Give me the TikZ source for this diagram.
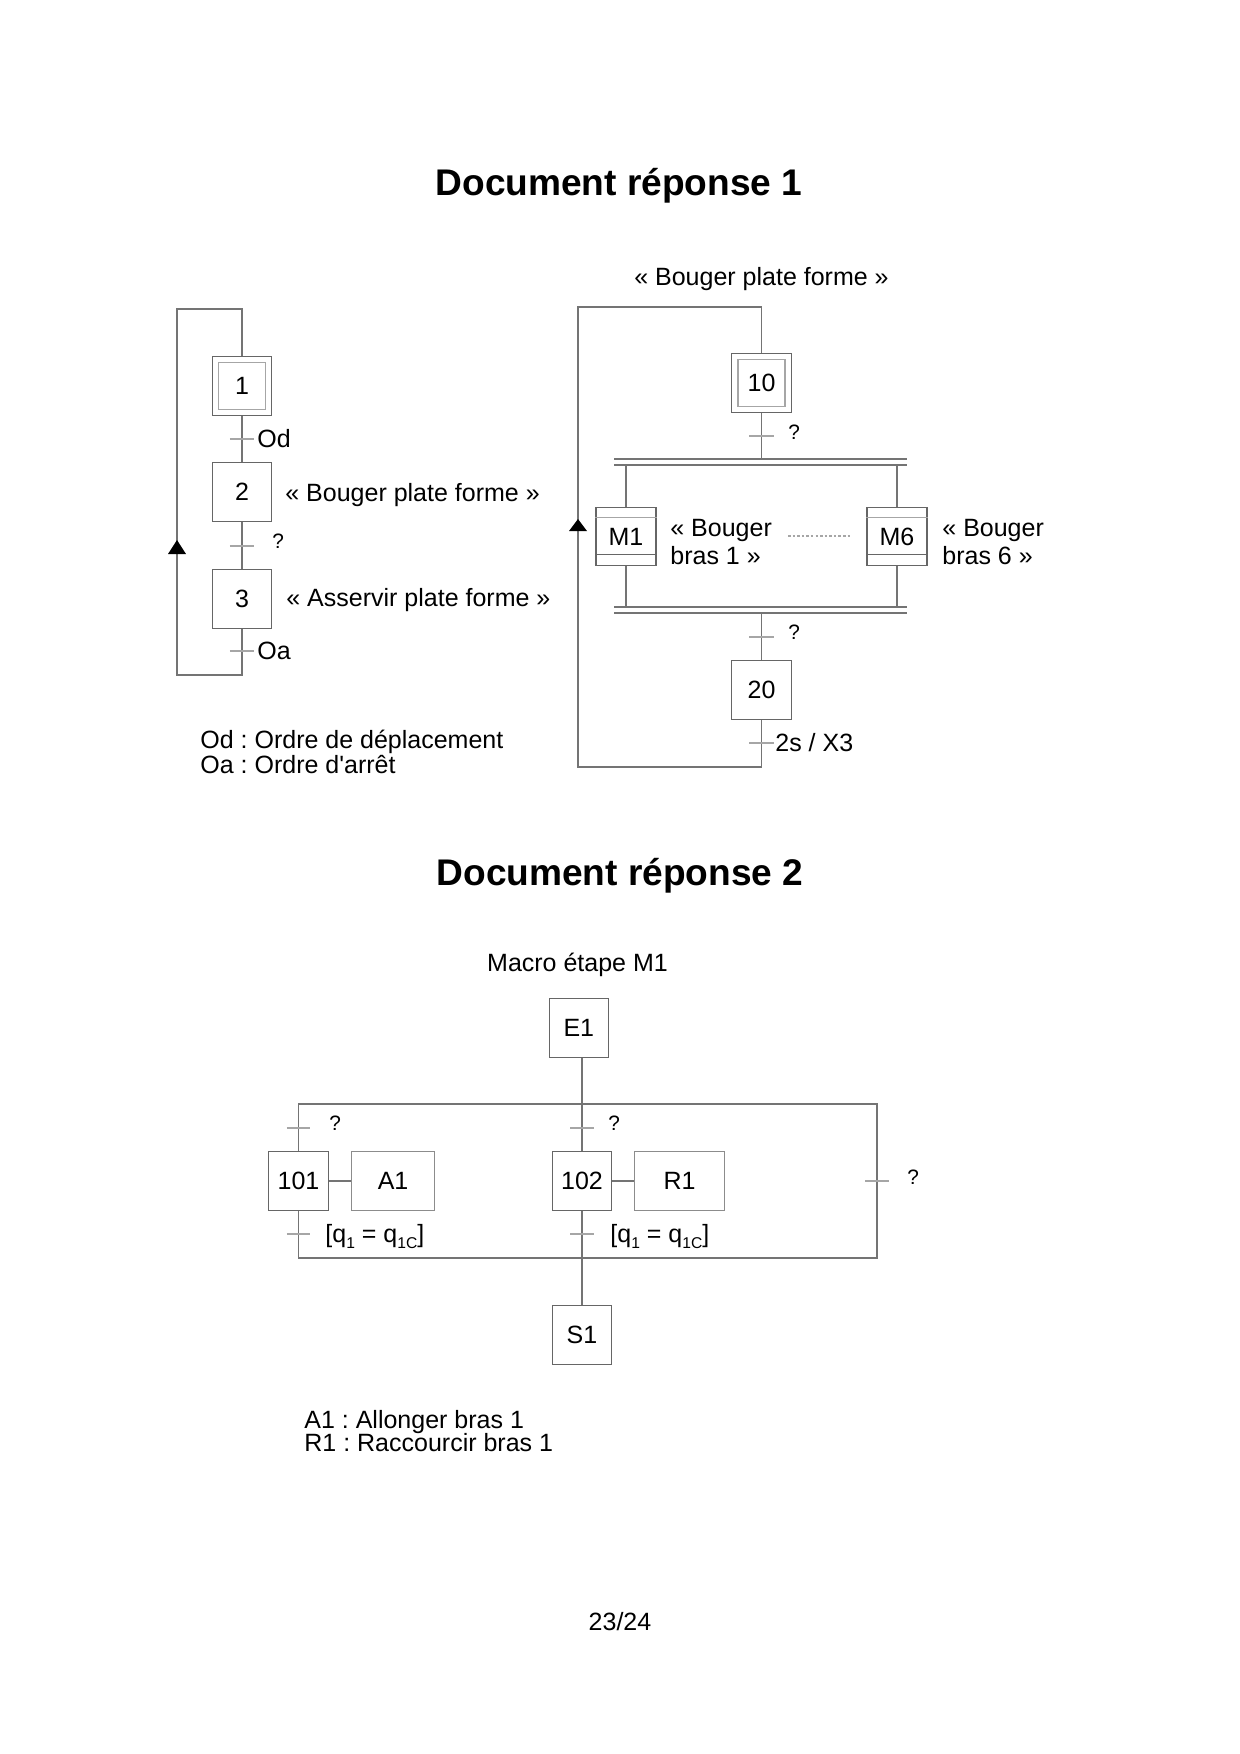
\documentclass[tikz,border=0pt]{standalone}
\usepackage{fontspec}
\setmainfont{Liberation Sans}
\newfontfamily\pfont{Liberation Sans}
\definecolor{ln}{HTML}{747474}
\definecolor{bx}{HTML}{666666}
\definecolor{lt}{HTML}{A6A6A6}
\definecolor{mb}{HTML}{8C8C8C}
\newcommand{\mysub}[1]{\raisebox{-2.6pt}{\fontsize{7.5}{8}\selectfont #1}}
\tikzset{
  ln/.style={draw=ln, line width=0.55pt},
  tick/.style={draw=lt, line width=0.55pt},
  stepbox/.style={draw=bx, line width=0.55pt, minimum width=28.4pt, minimum height=28.2pt, inner sep=0pt,
    font=\fontsize{12}{14}\selectfont, text height=8.6pt, text depth=0pt},
  innerbox/.style={draw=lt, line width=0.55pt, minimum width=22.6pt, minimum height=22.6pt, inner sep=0pt},
  lbl/.style={anchor=west, inner sep=0pt, font=\fontsize{12}{14}\selectfont, text height=8.6pt, text depth=0pt},
  qlbl/.style={anchor=west, inner sep=0pt, font=\fontsize{10}{12}\selectfont, text height=7.2pt, text depth=0pt},
  title/.style={inner sep=0pt, font=\bfseries\fontsize{17.8}{20}\selectfont, text height=12.7pt, text depth=0pt},
}
\begin{document}
\frenchspacing
\begin{tikzpicture}[x=0.48pt, y=-0.48pt]
\fill[white] (0,0) rectangle (1240,1754);
\useasboundingbox (0,0) rectangle (1240,1754);

% ---------------- Titles ----------------
\node[title] (tit1) at (619,182) {Document réponse 1};
\node[title] (tit2) at (620,872) {Document réponse 2};

% ---------------- Graph 1 (left) ----------------
\node[stepbox] (s1) at (242,386) {1};
\node[innerbox] (s1i) at (s1.center) {};
\node[stepbox] (s2) at (242,492) {2};
\node[stepbox] (s3) at (242,599) {3};
\coordinate (t1) at (242,439);
\coordinate (t2) at (242,546);
\coordinate (t3) at (242,651);
\coordinate (l1b) at (242,675);
\coordinate (l1c) at (177,309);
\draw[ln] (s1.south) -- (s2.north);
\draw[ln] (s2.south) -- (s3.north);
\draw[ln] (s3.south) -- (l1b) -| (l1c) -| (s1.north);
\draw[tick] ([xshift=-5.8pt]t1) -- ([xshift=5.8pt]t1);
\draw[tick] ([xshift=-5.8pt]t2) -- ([xshift=5.8pt]t2);
\draw[tick] ([xshift=-5.8pt]t3) -- ([xshift=5.8pt]t3);
\fill[black] (177,540) -- (168,554) -- (186,554) -- cycle;
\node[lbl] (od) at (257,439) {Od};
\node[qlbl] (q2) at (272,541) {?};
\node[lbl] (oa) at (257,651) {Oa};
\node[lbl] (a2) at (285,493) {« Bouger plate forme »};
\node[lbl] (a3) at (286,598) {« Asservir plate forme »};
\node[lbl] (leg1) at (200,740) {Od : Ordre de déplacement};
\node[lbl] (leg2) at (200,765) {\pfont Oa : Ordre d'arrêt};

% ---------------- Graph 2 (right) ----------------
\node[lbl, anchor=center] (a10) at (761.5,277) {« Bouger plate forme »};
\node[stepbox, minimum width=28.8pt] (s10) at (761.5,383) {10};
\node[innerbox] (s10i) at (s10.center) {};
\coordinate (t10) at (761.5,436);
\coordinate (b1l) at (614,459);
\coordinate (b1r) at (907,459);
\coordinate (b2l) at (614,465);
\coordinate (b2r) at (907,465);
\coordinate (b3l) at (614,607);
\coordinate (b3r) at (907,607);
\coordinate (b4l) at (614,613);
\coordinate (b4r) at (907,613);
\node[stepbox, minimum width=28.8pt] (m1) at (626,536.5) {M1};
\node[stepbox, minimum width=28.8pt] (m6) at (897,536.5) {M6};
\node[stepbox, minimum width=28.8pt] (s20) at (761.5,690) {20};
\coordinate (t20a) at (761.5,637);
\coordinate (t20b) at (761.5,743);
\coordinate (l2b) at (761.5,767);
\coordinate (l2c) at (578,307);
\draw[ln] (s10.south) -- (s10.south |- b1l);
\draw[ln] (b1l) -- (b1r);
\draw[ln] (b2l) -- (b2r);
\draw[ln] (m1.north |- b2l) -- (m1.north);
\draw[ln] (m6.north |- b2l) -- (m6.north);
\draw[ln] (m1.south) -- (m1.south |- b3l);
\draw[ln] (m6.south) -- (m6.south |- b3l);
\draw[ln] (b3l) -- (b3r);
\draw[ln] (b4l) -- (b4r);
\draw[ln] (s20.north |- b4l) -- (s20.north);
\draw[ln] (s20.south) -- (l2b) -| (l2c) -| (s10.north);
\foreach \m in {m1,m6}{
  \draw[draw=lt, line width=0.55pt] ([yshift=-5.3pt]\m.north west) -- ([yshift=-5.3pt]\m.north east);
  \draw[draw=bx, line width=0.55pt] ([yshift=5.8pt]\m.south west) -- ([yshift=5.8pt]\m.south east);
}
\draw[tick] ([xshift=-5.8pt]t10) -- ([xshift=5.8pt]t10);
\draw[tick] ([xshift=-5.8pt]t20a) -- ([xshift=5.8pt]t20a);
\draw[tick] ([xshift=-5.8pt]t20b) -- ([xshift=5.8pt]t20b);
\fill[black] (578,519) -- (569,531) -- (587,531) -- cycle;
\coordinate (d1) at (788,536);
\coordinate (d2) at (852,536);
\draw[draw=lt, line width=0.5pt, dash pattern=on 1.2pt off 1pt] (d1) -- (d2);
\node[qlbl] (q10) at (788,432) {?};
\node[qlbl] (q20) at (788,632) {?};
\node[lbl] (x3) at (775,743) {2s / X3};
\node[lbl] (bm1a) at (670,528) {« Bouger};
\node[lbl] (bm1b) at (670,556) {bras 1 »};
\node[lbl] (bm6a) at (942,528) {« Bouger};
\node[lbl] (bm6b) at (942,556) {bras 6 »};

% ---------------- Graph 3 (macro step) ----------------
\node[lbl, anchor=center] (mtitle) at (577.5,963) {Macro étape M1};
\node[stepbox] (e1) at (578.8,1028) {E1};
\node[stepbox] (n101) at (298.5,1181) {101};
\node[stepbox, draw=mb, minimum width=39.6pt] (a1) at (393.1,1181) {A1};
\node[stepbox] (n102) at (582,1181) {102};
\node[stepbox, draw=mb, minimum width=42.8pt] (r1) at (679.5,1181) {R1};
\node[stepbox] (ns1) at (582,1335) {S1};
\coordinate (h1l) at (298.5,1104);
\coordinate (h1r) at (877,1104);
\coordinate (h2l) at (298.5,1258);
\coordinate (h2r) at (877,1258);
\draw[ln] (e1.south -| n102) -- (n102.north);
\draw[ln] (n101.north) -- (h1l) -- (h1r) -- (h2r) -- (h2l) -- (n101.south);
\draw[ln] (n102.south) -- (ns1.north);
\draw[ln] (n101.east) -- (a1.west);
\draw[ln] (n102.east) -- (r1.west);
\coordinate (ta) at (298.5,1128);
\coordinate (tb) at (582,1128);
\coordinate (tc) at (877,1181);
\coordinate (td) at (298.5,1234);
\coordinate (te) at (582,1234);
\foreach \t in {ta,tb,tc,td,te}{
  \draw[tick] ([xshift=-5.6pt]\t) -- ([xshift=5.6pt]\t);
}
\node[qlbl] (qa) at (329,1123) {?};
\node[qlbl] (qb) at (608,1123) {?};
\node[qlbl] (qc) at (907,1177) {?};
\node[lbl] (ca) at (325,1234) {[q\mysub{1} = q\mysub{1C}]};
\node[lbl] (cb) at (610,1234) {[q\mysub{1} = q\mysub{1C}]};
\node[lbl] (leg3) at (304,1420) {A1 : Allonger bras 1};
\node[lbl] (leg4) at (304,1443) {R1 : Raccourcir bras 1};

% ---------------- Page number ----------------
\node[lbl, anchor=center] (page) at (620,1622) {23/24};
\end{tikzpicture}
\end{document}
